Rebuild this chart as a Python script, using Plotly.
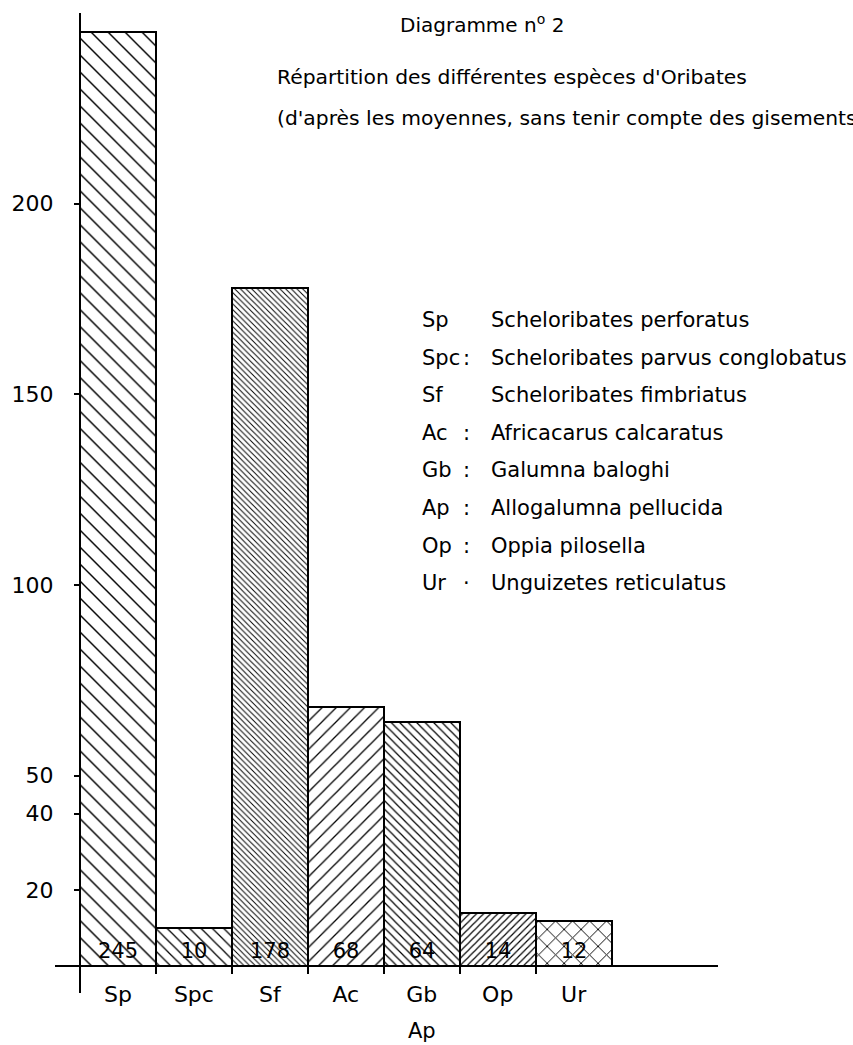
import plotly.graph_objects as go

# ---- data ----
categories = ["Sp", "Spc", "Sf", "Ac", "Gb", "Op", "Ur"]
values = [245, 10, 178, 68, 64, 14, 12]
y_ticks = [20, 40, 50, 100, 150, 200]

legend_abbr = ["Sp", "Spc", "Sf", "Ac", "Gb", "Ap", "Op", "Ur"]
legend_sep = ["", ":", "", ":", ":", ":", ":", "·"]
legend_names = [
    "Scheloribates perforatus",
    "Scheloribates parvus conglobatus",
    "Scheloribates fimbriatus",
    "Africacarus calcaratus",
    "Galumna baloghi",
    "Allogalumna pellucida",
    "Oppia pilosella",
    "Unguizetes reticulatus",
]
extra_label = "Ap"

# ---- styles ----
pattern_shapes = ["\\", "\\", "\\", "/", "\\", "/", "x"]
pattern_sizes = [12, 8, 4, 10, 6, 5, 12]
pattern_solid = [0.12, 0.16, 0.24, 0.13, 0.2, 0.24, 0.15]

FONT = "DejaVu Sans"
W, H = 853, 1045
ML, MR, MT, MB = 55, 135, 13, 52
PW, PH = W - ML - MR, H - MT - MB
Y_RANGE = [-7, 250]
X_RANGE = [-0.829, 7.9]


def px(x):
    return (x - ML) / PW


def py(y):
    return (H - MB - y) / PH


base_pos = (0 - Y_RANGE[0]) / (Y_RANGE[1] - Y_RANGE[0])
yaxis_pos = (-0.5 - X_RANGE[0]) / (X_RANGE[1] - X_RANGE[0])

fig = go.Figure()
fig.add_trace(go.Bar(
    x=categories,
    y=values,
    text=[str(v) for v in values],
    textposition="inside",
    insidetextanchor="start",
    textangle=0,
    textfont=dict(family=FONT, size=21, color="black"),
    marker=dict(
        color="white",
        line=dict(color="black", width=2),
        pattern=dict(shape=pattern_shapes, size=pattern_sizes,
                     solidity=pattern_solid, fgcolor="black", fgopacity=1,
                     bgcolor="white", fillmode="overlay"),
    ),
    hoverinfo="skip",
    showlegend=False,
))
# invisible helper trace so the boundary-tick axis is drawn
fig.add_trace(go.Scatter(x=[None], y=[None], xaxis="x2", showlegend=False,
                         hoverinfo="skip", mode="markers"))

TITLE_SIZE = 20.3
annotations = []
annotations.append(dict(text="Diagramme n<sup>o</sup> 2", x=px(398), y=py(24),
                        xanchor="left", yanchor="middle", showarrow=False,
                        font=dict(family=FONT, size=20, color="black")))
annotations.append(dict(text="Répartition des différentes espèces d'Oribates",
                        x=px(275), y=py(77), xanchor="left", yanchor="middle",
                        showarrow=False,
                        font=dict(family=FONT, size=TITLE_SIZE, color="black")))
annotations.append(dict(text="(d'après les moyennes, sans tenir compte des gisements)",
                        x=px(275), y=py(118), xanchor="left", yanchor="middle",
                        showarrow=False,
                        font=dict(family=FONT, size=TITLE_SIZE, color="black")))

row_y0, row_dy = 320, 37.6
for i, (ab, sep, nm) in enumerate(zip(legend_abbr, legend_sep, legend_names)):
    yy = py(row_y0 + i * row_dy)
    annotations.append(dict(text=ab, x=px(420), y=yy, xanchor="left",
                            yanchor="middle", showarrow=False,
                            font=dict(family=FONT, size=21, color="black")))
    if sep:
        annotations.append(dict(text=sep, x=px(466), y=yy, xanchor="center",
                                yanchor="middle", showarrow=False,
                                font=dict(family=FONT, size=21, color="black")))
    annotations.append(dict(text=nm, x=px(489), y=yy, xanchor="left",
                            yanchor="middle", showarrow=False,
                            font=dict(family=FONT, size=21, color="black")))

annotations.append(dict(text=extra_label, x="Gb", xref="x", y=py(1031),
                        yref="paper", xanchor="center", yanchor="middle",
                        showarrow=False,
                        font=dict(family=FONT, size=21, color="black")))
for a in annotations:
    a.setdefault("xref", "paper")
    a.setdefault("yref", "paper")

fig.update_layout(
    width=W, height=H,
    margin=dict(l=ML, r=MR, t=MT, b=MB, pad=0, autoexpand=False),
    paper_bgcolor="white", plot_bgcolor="white",
    bargap=0,
    font=dict(family=FONT, color="black"),
    xaxis=dict(
        range=X_RANGE, anchor="free", position=base_pos,
        showline=True, linecolor="black", linewidth=2,
        ticks="", showgrid=False, zeroline=False, automargin=False,
        tickfont=dict(family=FONT, size=22, color="black"),
        ticklabelstandoff=8,
    ),
    xaxis2=dict(
        range=X_RANGE, overlaying="x", anchor="free", position=base_pos,
        tickmode="array",
        tickvals=[i + 0.5 for i in range(len(categories) - 1)],
        ticks="outside", ticklen=7, tickwidth=2, tickcolor="black",
        showticklabels=False, showline=False, showgrid=False, zeroline=False,
        side="bottom", automargin=False,
    ),
    yaxis=dict(
        range=Y_RANGE, anchor="free", position=yaxis_pos,
        showline=True, linecolor="black", linewidth=2,
        ticks="outside", ticklen=5, tickwidth=2, tickcolor="black",
        tickmode="array", tickvals=y_ticks,
        showgrid=False, zeroline=False, automargin=False,
        tickfont=dict(family=FONT, size=22, color="black"),
        ticklabelstandoff=16,
    ),
    annotations=annotations,
)

fig.write_html(
    "out.html",
    config={"displayModeBar": False},
    post_script="document.body.style.margin='0';document.body.style.overflow='hidden';",
)
